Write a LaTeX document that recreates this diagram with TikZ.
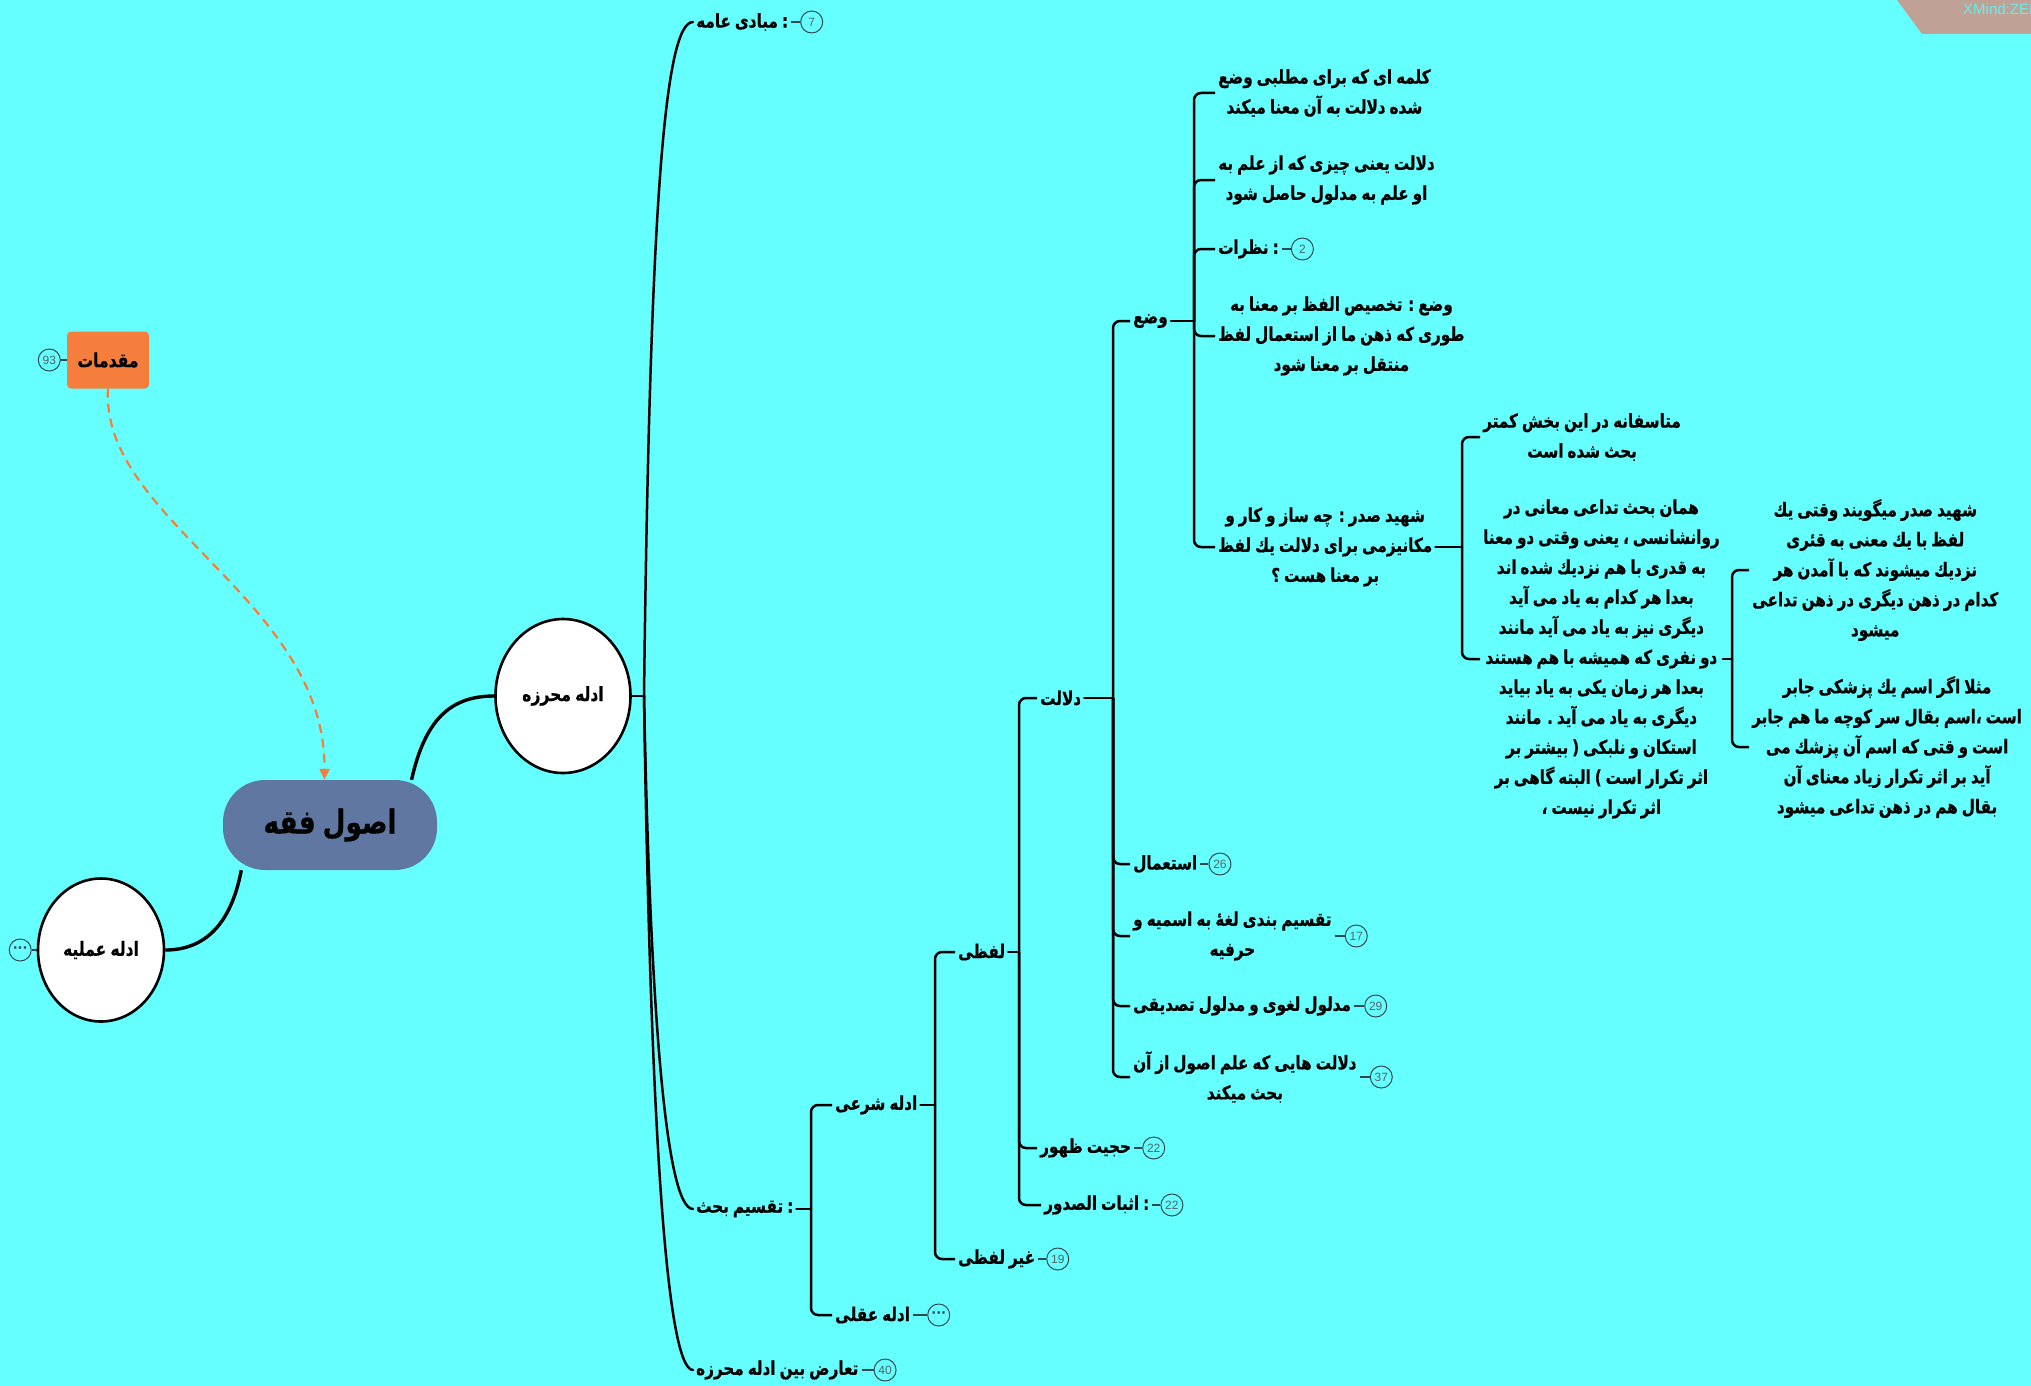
\documentclass[tikz,border=0pt]{standalone}
\usepackage{fontspec}
\setmainfont{Liberation Sans}
\newfontfamily\arabicfont[Script=Arabic, FakeStretch=0.8, WordSpace=0.75, FakeBold=0.5]{DejaVu Sans}
\newfontfamily\dotsfont{DejaVu Sans}
\TeXXeTstate=1
\usetikzlibrary{positioning,arrows.meta,shapes.geometric}
\pgfdeclarelayer{backdrop}
\pgfdeclarelayer{edges}
\pgfsetlayers{backdrop,edges,main}
\newcommand\rtlline[1]{\beginR #1\endR}
\definecolor{canvas}{HTML}{66FFFF}
\definecolor{pillblue}{HTML}{5F77A1}
\definecolor{boxorange}{HTML}{F57E3C}
\definecolor{numcol}{HTML}{2E4A4E}
\definecolor{corner}{HTML}{C0A195}
\definecolor{brandtext}{HTML}{66EEEE}
\begin{document}
\begin{tikzpicture}[x=1pt,y=-1pt,
  fa/.style={font={\arabicfont\bfseries\fontsize{19}{30}\selectfont}, align=center, inner sep=3pt},
  numc/.style={circle, draw=numcol, line width=1pt, inner sep=0pt, minimum size=22pt,
    font={\fontsize{12}{12}\selectfont}, text=numcol!85},
  dotc/.style={numc, font={\dotsfont\bfseries\fontsize{13}{13}\selectfont}, text=numcol},
  numline/.style={draw=numcol, line width=1.3pt},
  branch/.style={line width=2.5pt, line cap=round},
  hook/.style={line width=2.5pt, rounded corners=7pt},
  mainedge/.style={line width=3.4pt},
  ell/.style={ellipse, draw=black, line width=2.6pt, fill=white, inner sep=0pt,
    font={\arabicfont\bfseries\fontsize{19.5}{22}\selectfont}},
  pill/.style={fill=pillblue, rounded corners=42pt, minimum width=214pt, minimum height=90pt,
    font={\arabicfont\bfseries\fontsize{33}{38}\selectfont}},
  topicbox/.style={fill=boxorange, rounded corners=4pt, minimum width=82pt, minimum height=57pt,
    font={\arabicfont\bfseries\fontsize{19.5}{22}\selectfont}},
  relation/.style={draw=boxorange, line width=2.2pt, dash pattern=on 9pt off 6pt,
    -{Triangle[length=11pt,width=10pt]}}
]
\useasboundingbox (0,0) rectangle (2031,1386);
% canvas and brand corner
\begin{pgfonlayer}{backdrop}
  \fill[canvas] (0,0) rectangle (2031,1386);
  \begin{scope}
    \clip (0,0) rectangle (2031,1386);
    \fill[corner] (1897,0) -- (2040,0) -- (2040,34) -- (1922,34) -- cycle;
    \node[anchor=west, text=brandtext, font={\fontsize{15}{15}\selectfont}, inner sep=0pt]
      (brand) at (1963,9) {XMind:ZEN};
  \end{scope}
\end{pgfonlayer}

% central topic and first level
\node[pill] (root) at (330,825) {\rtlline{اصول فقه}};
\node[topicbox] (moq) at (108,360) {\rtlline{مقدمات}};
\node[numc, left=6pt of moq] (n93) {93};
\node[ell, minimum width=126pt, minimum height=143pt] (amal) at (101,950) {\rtlline{ادله عملیه}};
\node[dotc, left=5pt of amal] (namal) {···};
\node[ell, minimum width=135pt, minimum height=154pt] (mohraze) at (563,696) {\rtlline{ادله محرزه}};
\coordinate (f0) at (644,696);

% children of ادله محرزه
\node[fa, anchor=west] (mabadi) at (693,22) {\rtlline{مبادی عامه} :};
\node[numc, right=9pt of mabadi] (n7) {7};
\node[fa, anchor=west] (taqsim) at (693,1209) {\rtlline{تقسیم بحث} :};
\node[fa, anchor=west] (taaruz) at (693,1370) {\rtlline{تعارض بین ادله محرزه}};
\node[numc, right=12pt of taaruz] (n40) {40};

% تقسیم بحث
\coordinate (b1) at (811,1209);
\node[fa, anchor=west] (shari) at (832,1105) {\rtlline{ادله شرعی}};
\node[fa, anchor=west] (aqli) at (832,1315) {\rtlline{ادله عقلی}};
\node[dotc, right=14pt of aqli] (naqli) {···};

% ادله شرعی
\coordinate (b2) at (935,1105);
\node[fa, anchor=west] (lafzi) at (955,952) {\rtlline{لفظی}};
\node[fa, anchor=west] (ghair) at (955,1259) {\rtlline{غیر لفظی}};
\node[numc, right=8pt of ghair] (n19) {19};

% لفظی
\coordinate (b3) at (1019,952);
\node[fa, anchor=west] (dalalat) at (1037,698) {\rtlline{دلالت}};
\node[fa, anchor=west] (hojjiat) at (1037,1148) {\rtlline{حجیت ظهور}};
\node[numc, right=8pt of hojjiat] (n22a) {22};
\node[fa, anchor=west] (esbat) at (1041,1205) {\rtlline{اثبات الصدور} :};
\node[numc, right=8pt of esbat] (n22b) {22};

% دلالت
\coordinate (b4) at (1113,698);
\node[fa, anchor=west] (vaz) at (1130,321) {\rtlline{وضع}};
\node[fa, anchor=west] (estemal) at (1130,864) {\rtlline{استعمال}};
\node[numc, right=8pt of estemal] (n26) {26};
\node[fa, anchor=west] (tqb) at (1130,936) {\rtlline{تقسیم بندی لغهٔ به اسمیه و}\\\rtlline{حرفیه}};
\node[numc, right=10pt of tqb] (n17) {17};
\node[fa, anchor=west] (madlul) at (1130,1006) {\rtlline{مدلول لغوی و مدلول تصدیقی}};
\node[numc, right=10pt of madlul] (n29) {29};
\node[fa, anchor=west] (dhae) at (1130,1077) {\rtlline{دلالت هایی که علم اصول از آن}\\\rtlline{بحث میکند}};
\node[numc, right=10pt of dhae] (n37) {37};

% وضع
\coordinate (b5) at (1194,321);
\node[fa, anchor=west] (k1) at (1215,93) {\rtlline{کلمه ای که برای مطلبی وضع}\\\rtlline{شده دلالت به آن معنا میکند}};
\node[fa, anchor=west] (k2) at (1215,180) {\rtlline{دلالت یعنی چیزی که از علم به}\\\rtlline{او علم به مدلول حاصل شود}};
\node[fa, anchor=west] (nazarat) at (1215,249) {\rtlline{نظرات} :};
\node[numc, right=9pt of nazarat] (n2) {2};
\node[fa, anchor=west] (k4) at (1215,336) {\rtlline{وضع : تخصیص الفظ بر معنا به}\\\rtlline{طوری که ذهن ما از استعمال لفظ}\\\rtlline{منتقل بر معنا شود}};
\node[fa, anchor=west] (sadr) at (1215,547) {\rtlline{شهید صدر : چه ساز و کار و}\\\rtlline{مکانیزمی برای دلالت یك لفظ}\\\rtlline{بر معنا هست ؟}};

% شهید صدر
\coordinate (b6) at (1462,547);
\node[fa, anchor=west] (mota) at (1480,437) {\rtlline{متاسفانه در این بخش کمتر}\\\rtlline{بحث شده است}};
\node[fa, anchor=west] (hamaan) at (1480,659) {\rtlline{همان بحث تداعی معانی در}\\
  \rtlline{روانشانسی ، یعنی وقتی دو معنا}\\
  \rtlline{به قدری با هم نزدیك شده اند}\\
  \rtlline{بعدا هر کدام به یاد می آید}\\
  \rtlline{دیگری نیز به یاد می آید مانند}\\
  \rtlline{دو نفری که همیشه با هم هستند}\\
  \rtlline{بعدا هر زمان یکی به یاد بیاید}\\
  \rtlline{دیگری به یاد می آید . مانند}\\
  \rtlline{استکان و نلبکی ( بیشتر بر}\\
  \rtlline{اثر تکرار است ) البته گاهی بر}\\
  \rtlline{اثر تکرار نیست ،}};

% همان بحث تداعی
\coordinate (b7) at (1732,659);
\node[fa, anchor=west] (ca) at (1749,570) {\rtlline{شهید صدر میگویند وقتی یك}\\
  \rtlline{لفظ با یك معنی به قئری}\\
  \rtlline{نزدیك میشوند که با آمدن هر}\\
  \rtlline{کدام در ذهن دیگری در ذهن تداعی}\\
  \rtlline{میشود}};
\node[fa, anchor=west] (cb) at (1749,747) {\rtlline{مثلا اگر اسم یك پزشکی جابر}\\
  \rtlline{است ،اسم بقال سر کوچه ما هم جابر}\\
  \rtlline{است و قتی که اسم آن پزشك می}\\
  \rtlline{آید بر اثر تکرار زیاد معنای آن}\\
  \rtlline{بقال هم در ذهن تداعی میشود}};

\begin{pgfonlayer}{edges}
  % main curves
  \draw[mainedge] (root.29) .. controls (425,720) and (450,696) .. (mohraze.west);
  \draw[mainedge] (root.207) .. controls (230,930) and (200,950) .. (amal.east);
  \draw[relation] (moq.south) .. controls (100,520) and (326,600) .. (root.97);
  \draw[numline] (moq.west) -- (n93.east);
  \draw[numline] (amal.west) -- (namal.east);
  % ادله محرزه
  \draw[branch] (mohraze.east) -- (f0);
  \draw[branch] (f0) .. controls (650,200) and (665,22) .. (mabadi.west);
  \draw[branch] (f0) .. controls (650,1000) and (665,1209) .. (taqsim.west);
  \draw[branch] (f0) .. controls (650,1100) and (665,1370) .. (taaruz.west);
  \draw[numline] (mabadi.east) -- (n7.west);
  \draw[numline] (taaruz.east) -- (n40.west);
  % brackets
  \draw[branch] (taqsim.east) -- (b1);
  \foreach \c in {shari,aqli} \draw[hook] (b1) |- (\c.west);
  \draw[numline] (aqli.east) -- (naqli.west);
  \draw[branch] (shari.east) -- (b2);
  \foreach \c in {lafzi,ghair} \draw[hook] (b2) |- (\c.west);
  \draw[numline] (ghair.east) -- (n19.west);
  \draw[branch] (lafzi.east) -- (b3);
  \foreach \c in {dalalat,hojjiat,esbat} \draw[hook] (b3) |- (\c.west);
  \draw[numline] (hojjiat.east) -- (n22a.west);
  \draw[numline] (esbat.east) -- (n22b.west);
  \draw[branch] (dalalat.east) -- (b4);
  \foreach \c in {vaz,estemal,tqb,madlul,dhae} \draw[hook] (b4) |- (\c.west);
  \draw[numline] (estemal.east) -- (n26.west);
  \draw[numline] (tqb.east) -- (n17.west);
  \draw[numline] (madlul.east) -- (n29.west);
  \draw[numline] (dhae.east) -- (n37.west);
  \draw[branch] (vaz.east) -- (b5);
  \foreach \c in {k1,k2,nazarat,k4,sadr} \draw[hook] (b5) |- (\c.west);
  \draw[numline] (nazarat.east) -- (n2.west);
  \draw[branch] (sadr.east) -- (b6);
  \foreach \c in {mota,hamaan} \draw[hook] (b6) |- (\c.west);
  \draw[branch] (hamaan.east) -- (b7);
  \foreach \c in {ca,cb} \draw[hook] (b7) |- (\c.west);
\end{pgfonlayer}
\end{tikzpicture}
\end{document}
